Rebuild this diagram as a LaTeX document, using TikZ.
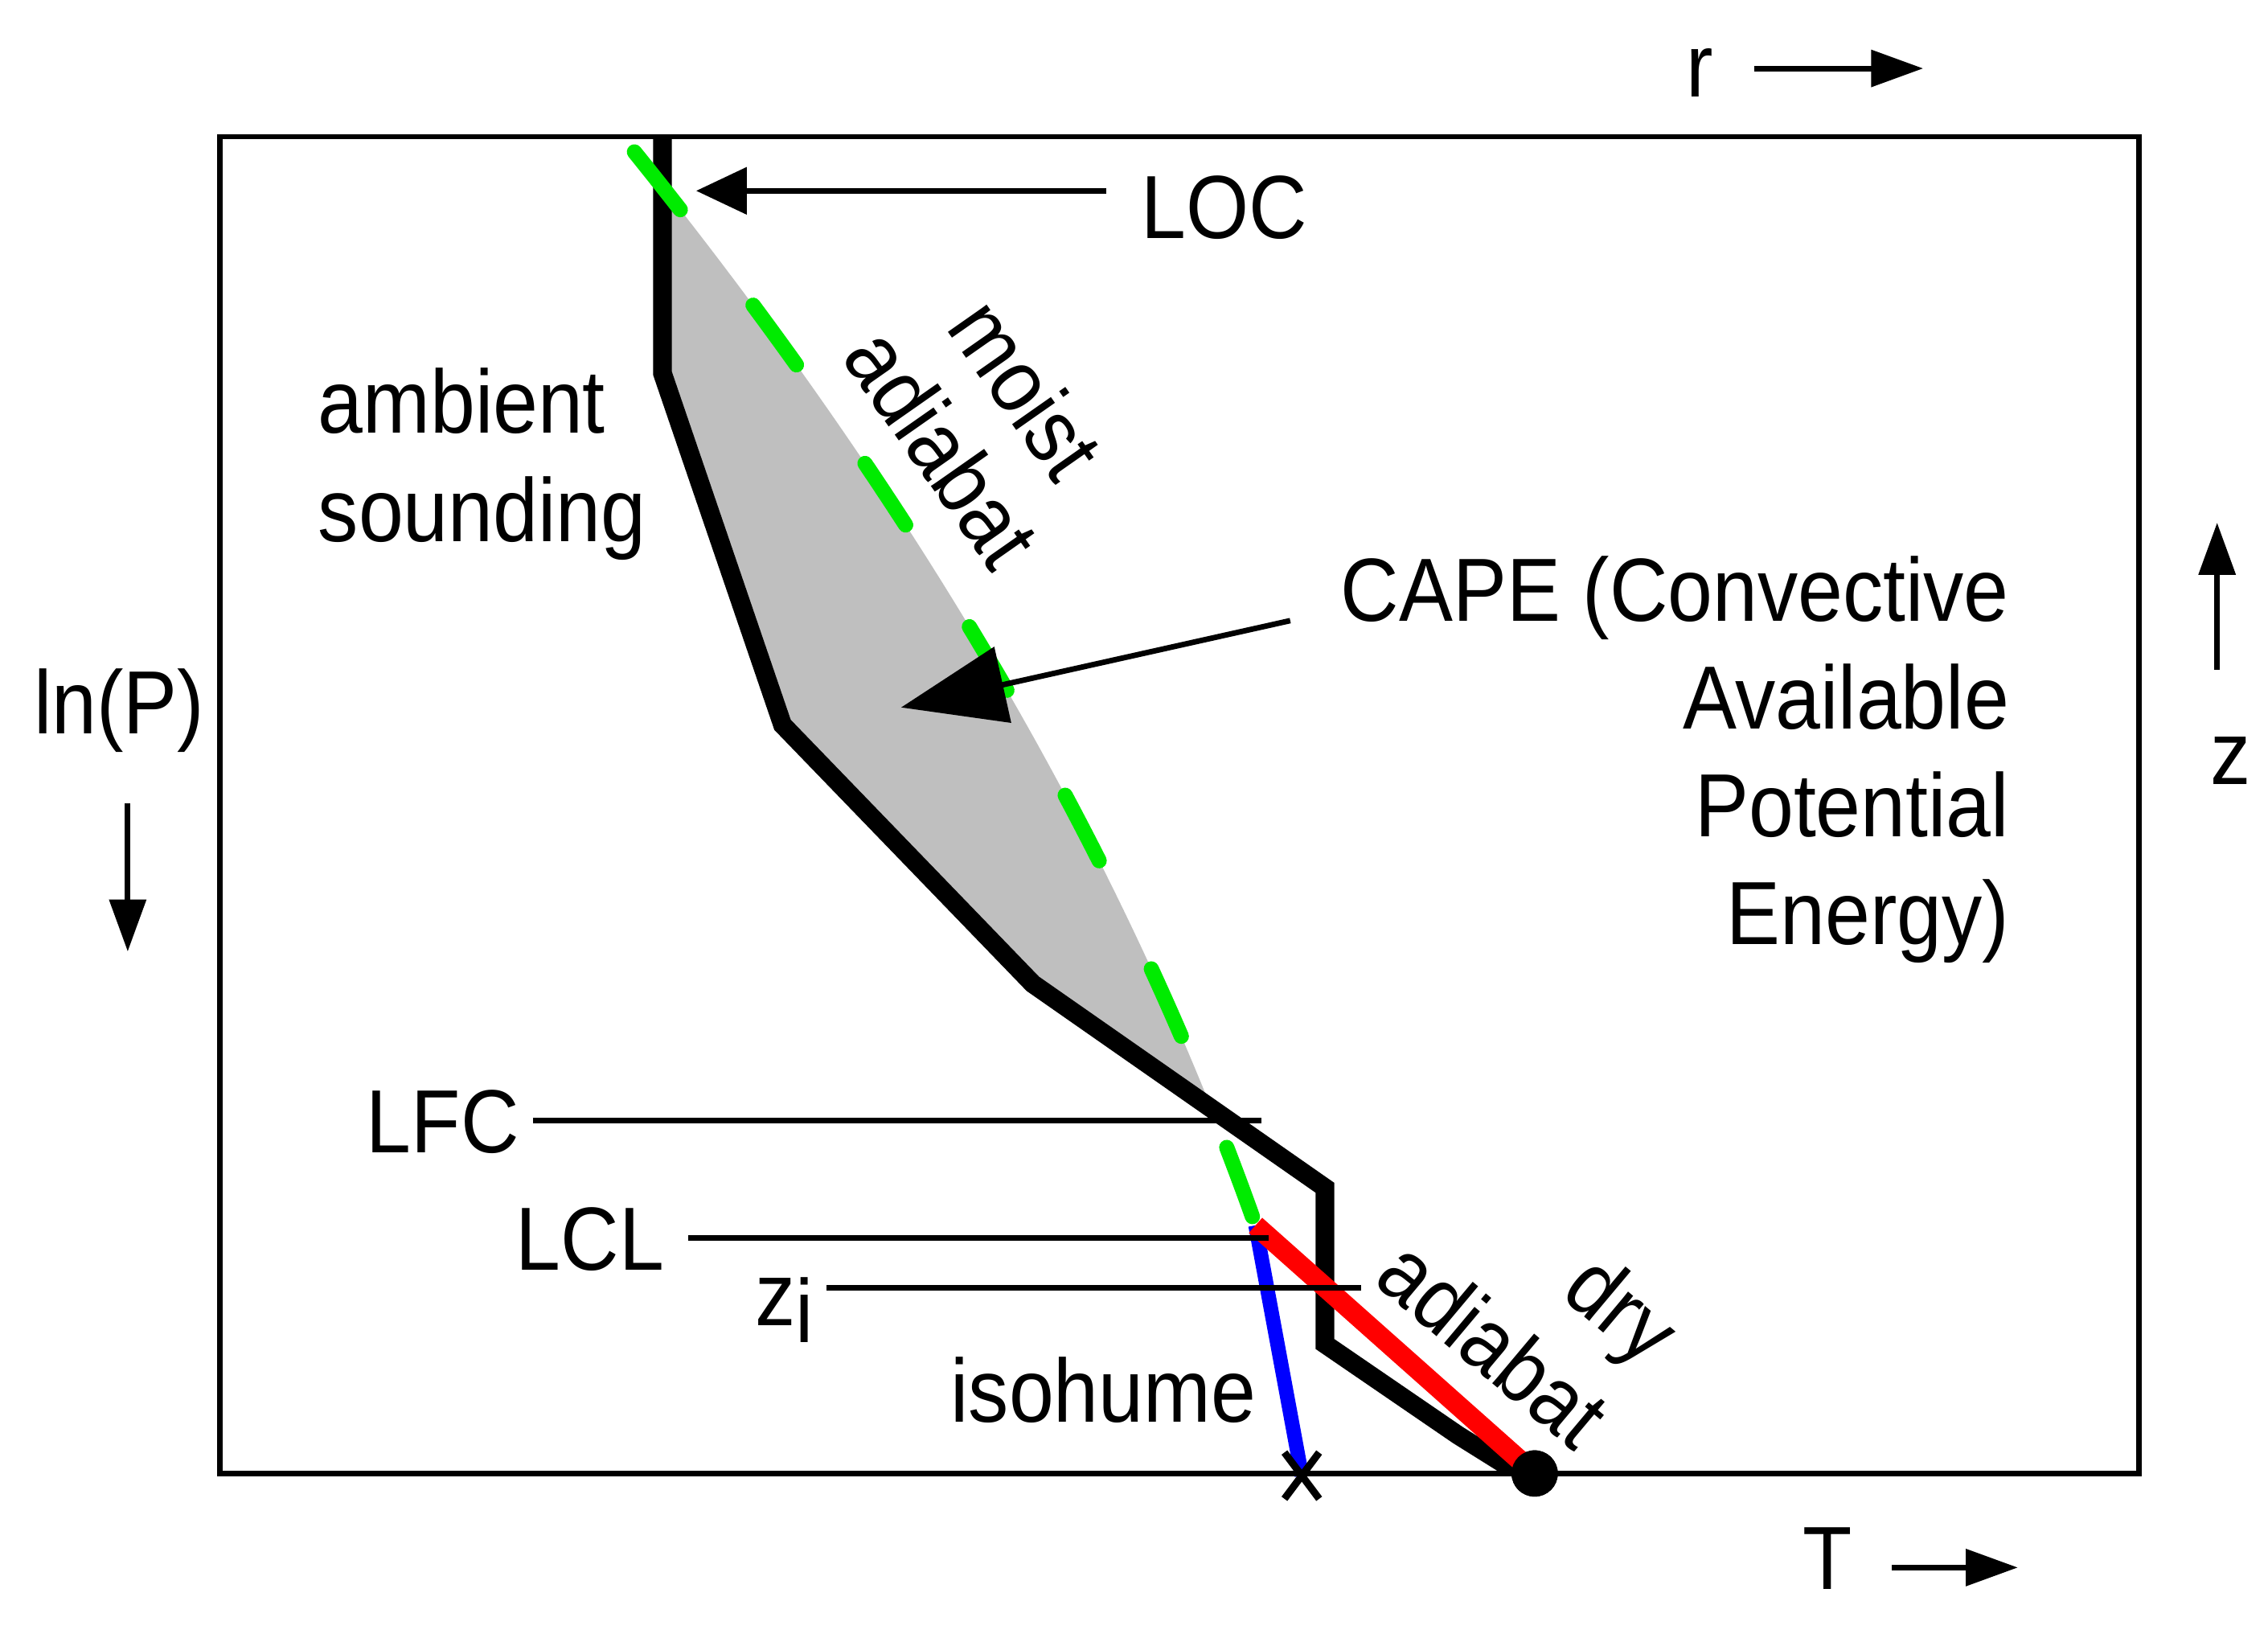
\documentclass[tikz,border=0pt]{standalone}
\usepackage{fontspec}
\setmainfont{Liberation Sans}[FakeStretch=0.9]
\usetikzlibrary{arrows.meta,calc}
\definecolor{capegray}{RGB}{191,191,191}
\definecolor{moistgreen}{RGB}{0,235,0}
\definecolor{dryred}{RGB}{255,0,0}
\definecolor{isoblue}{RGB}{0,0,255}
\begin{document}
\begin{tikzpicture}[x=1pt,y=-1pt,
  lbl/.style={font=\fontsize{62}{74}\selectfont, inner sep=0pt, outer sep=0pt},
  leader/.style={line width=3.8pt},
  axisarrow/.style={line width=3.8pt, -{Triangle[length=36pt,width=25pt]}},
  sounding/.style={line width=13pt},
  moistline/.style={line width=10.5pt, moistgreen, line cap=round, dash pattern=on 51pt off 83pt},
  dryline/.style={line width=14pt, dryred},
  isoline/.style={line width=10pt, isoblue}]
\fill[white] (0,0) rectangle (1568,1132);
\useasboundingbox (0,0) rectangle (1568,1132);
% key points
\coordinate (s0) at (458,94.5);
\coordinate (s1) at (458,258);
\coordinate (s2) at (541,501);
\coordinate (s3) at (714,680);
\coordinate (s4) at (916,821);
\coordinate (s5) at (916,929);
\coordinate (s6) at (1008,992);
\coordinate (s7) at (1040,1012);
\coordinate (m0) at (438.6,105);
\coordinate (lcl) at (868,847);
\coordinate (isox) at (900,1020);
% CAPE area
\begin{scope}
\clip (354,0) -- (m0) .. controls (636.4,350.3) and (779.2,595.7) .. (lcl) -- (0,847) -- (0,0) -- cycle;
\fill[capegray] (s0) -- (s1) -- (s2) -- (s3) -- (s4) -- (1500,821) -- (1500,0) -- (458,0) -- cycle;
\end{scope}
% parcel
\node[circle, fill=black, minimum size=32pt, inner sep=0pt] (parcel) at (1061,1018.5) {};
% ambient sounding
\draw[sounding] (s0) -- (s1) -- (s2) -- (s3) -- (s4) -- (s5) -- (s6) -- (s7) -- (parcel.center);
% moist adiabat
\draw[moistline] (m0) .. controls (636.4,350.3) and (779.2,595.7) .. (lcl);
% isohume and dry adiabat
\draw[isoline] (lcl) -- (isox);
\draw[dryline] (lcl) -- (parcel.center);
\node[circle, fill=black, minimum size=32pt, inner sep=0pt] at (parcel) {};
\draw[line width=5pt] ($(isox)+(-12,-16)$) -- ($(isox)+(12,16)$);
\draw[line width=5pt] ($(isox)+(-12,16)$) -- ($(isox)+(12,-16)$);
% frame
\draw[line width=3.8pt] (152,94.5) rectangle (1479,1018.7);
% leader lines
\coordinate (lfcA) at (368.5,774.5); \coordinate (lfcB) at (872,774.5);
\coordinate (lclA) at (475.8,855.6); \coordinate (lclB) at (877,855.6);
\coordinate (ziA) at (571.4,890.3); \coordinate (ziB) at (941,890.3);
\draw[leader] (lfcA) -- (lfcB);
\draw[leader] (lclA) -- (lclB);
\draw[leader] (ziA) -- (ziB);
% arrows
\coordinate (rA) at (1213,47.3); \coordinate (rB) at (1329.6,47.3);
\coordinate (TA) at (1308,1083.5); \coordinate (TB) at (1395,1083.5);
\coordinate (zA) at (1532.8,463.2); \coordinate (zB) at (1532.8,361.3);
\coordinate (pA) at (88.3,555.2); \coordinate (pB) at (88.3,657.7);
\coordinate (locA) at (764.9,131.9); \coordinate (locB) at (481.3,131.9);
\coordinate (capeA) at (892,429); \coordinate (capeB) at (623,489);
\draw[axisarrow] (rA) -- (rB);
\draw[axisarrow] (TA) -- (TB);
\draw[axisarrow] (zA) -- (zB);
\draw[axisarrow] (pA) -- (pB);
\draw[line width=3.8pt, -{Triangle[length=35pt,width=32pt]}] (locA) -- (locB);
\draw[line width=3.8pt, -{Triangle[length=72pt,width=53pt]}] (capeA) -- (capeB);
% labels
\node[lbl, anchor=base west] (rlab) at (1166,66.7) {r};
\node[lbl, anchor=base west] (LOC) at (789,164.7) {LOC};
\node[lbl, anchor=base west] (amb1) at (220,299.2) {ambient};
\node[lbl, anchor=base west] (amb2) at (220,374.5) {sounding};
\node[lbl, anchor=base west] (lnP) at (23.4,507) {ln(P)};
\node[lbl, anchor=base east] (cape1) at (1389,429.4) {CAPE (Convective};
\node[lbl, anchor=base east] (cape2) at (1389,503.8) {Available};
\node[lbl, anchor=base east] (cape3) at (1389,578.3) {Potential};
\node[lbl, anchor=base east] (cape4) at (1389,652.7) {Energy)};
\node[lbl, anchor=base west] (zlab) at (1528,542) {z};
\node[lbl, anchor=base west] (Tlab) at (1246.5,1098.7) {T};
\node[lbl, anchor=base west] (LFC) at (253.4,796.7) {LFC};
\node[lbl, anchor=base west] (LCL) at (356.7,878.2) {LCL};
\node[lbl, anchor=base west] (zi) at (522,916.2) {z\raisebox{-12pt}{i}};
\node[lbl, anchor=base west] (iso) at (657.3,982.9) {isohume};
\node[lbl, font=\fontsize{62}{71}\selectfont, align=center, rotate=-55] (moist) at (680.9,289) {moist\\adiabat};
\node[lbl, font=\fontsize{62}{76}\selectfont, align=right, rotate=-40] (dry) at (1057.2,899.1) {dry\\adiabat};
\end{tikzpicture}
\end{document}
